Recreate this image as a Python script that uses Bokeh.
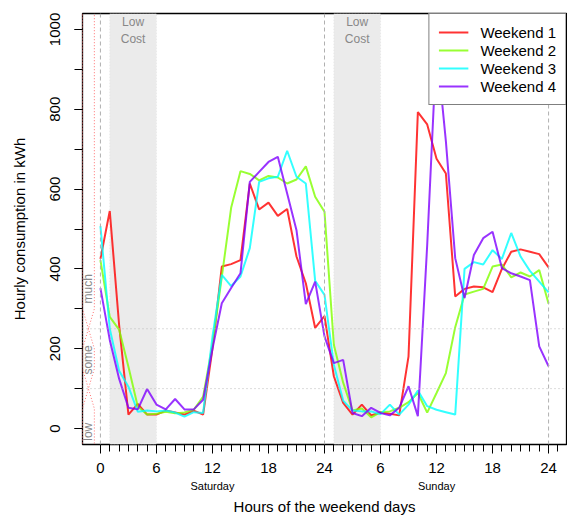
import math
from bokeh.plotting import figure
from bokeh.models import (Range1d, FixedTicker, SingleIntervalTicker, LinearAxis,
                          BoxAnnotation, Span, Legend, LegendItem)
from bokeh.embed import file_html
from bokeh.resources import INLINE
from bokeh.core.properties import value

# ---------------- data ----------------
hours = list(range(49))
weekend1 = [425, 545, 260, 35, 62, 35, 35, 45, 40, 35, 45, 35, 200, 406, 412, 422, 614, 549, 566, 533,
            550, 431, 364, 252, 282, 131, 64, 35, 60, 33, 40, 37, 33, 181, 793, 762, 676, 639, 331, 350,
            356, 354, 342, 400, 443, 449, 443, 437, 404]
weekend2 = [422, 280, 248, 155, 55, 35, 37, 42, 38, 40, 47, 80, 210, 380, 553, 645, 638, 622, 633, 629,
            614, 624, 657, 581, 543, 210, 115, 45, 50, 28, 41, 43, 52, 66, 89, 40, 89, 139, 254, 336,
            343, 350, 406, 411, 379, 391, 381, 397, 313]
weekend3 = [507, 250, 145, 105, 42, 45, 43, 45, 40, 30, 41, 39, 230, 385, 357, 381, 452, 618, 627, 631,
            696, 631, 614, 370, 335, 160, 70, 45, 43, 43, 36, 60, 35, 60, 95, 56, 47, 41, 35, 400,
            417, 411, 447, 425, 490, 431, 395, 368, 341]
weekend4 = [352, 222, 125, 52, 48, 99, 60, 48, 74, 48, 48, 72, 200, 314, 352, 389, 618, 643, 668, 681,
            589, 497, 312, 368, 231, 164, 172, 39, 31, 52, 39, 33, 52, 106, 31, 460, 960, 720, 427, 327,
            435, 477, 493, 402, 389, 381, 372, 206, 156]
series_names = ["Weekend 1", "Weekend 2", "Weekend 3", "Weekend 4"]
series_colors = ["#FF0000", "#80FF00", "#00FFFF", "#8000FF"]

x_tick_positions = [0, 6, 12, 18, 24, 30, 36, 42, 48]
x_tick_labels = ["0", "6", "12", "18", "24", "6", "12", "18", "24"]
x_minor_positions = list(range(0, 50))
day_positions = [12, 36]
day_labels = ["Saturday", "Sunday"]

low_cost_start = [1, 25]
low_cost_end = [6, 30]
day_boundaries = [0, 24, 48]
level_thresholds = [100, 250]

# fuzzy levels drawn at the left
level_y = [-60, 50, 150, 200, 300, 1100]
low_mu = [1, 1, 0, 0, 0, 0]
some_mu = [0, 0, 1, 1, 0, 0]
much_mu = [0, 0, 0, 0, 1, 1]
level_names = ["low", "some", "much"]
level_label_y = [-8, 172, 350]

# ---------------- figure ----------------
X0, X1 = -1.92, 49.92
p = figure(width=567, height=517, output_backend="svg", toolbar_location=None,
           x_range=Range1d(X0, X1), y_range=Range1d(-40, 1040),
           x_axis_type=None, y_axis_type=None,
           min_border=0, min_border_left=82, min_border_right=1,
           min_border_top=13, min_border_bottom=71)
p.grid.visible = False
p.outline_line_color = "black"
p.outline_line_width = 1.3
p.background_fill_color = "white"
p.border_fill_color = "white"

FONT = "Liberation Sans"

# shaded low-cost regions
for a, b in zip(low_cost_start, low_cost_end):
    p.add_layout(BoxAnnotation(left=a, right=b, fill_color="#EBEBEB", fill_alpha=1,
                               line_color="#C8C8C8", line_dash="1 2", line_width=1,
                               level="underlay"))
p.text(x=[(a + b) / 2 for a, b in zip(low_cost_start, low_cost_end)], y=[1035, 1035],
       text=["Low\nCost", "Low\nCost"], text_align="center", text_baseline="top",
       text_font_size="12px", text_color="#888888", text_font=value(FONT))

for d in day_boundaries:
    p.add_layout(Span(location=d, dimension="height", line_color="#B0B0B0",
                      line_dash="4 3", line_width=1))
for t in level_thresholds:
    p.add_layout(Span(location=t, dimension="width", line_color="#B8B8B8",
                      line_dash="1 3", line_width=1))

# fuzzy membership curves
MX0, MX1 = X0, -0.65
for mu in (low_mu, some_mu, much_mu):
    p.line([MX0 + m * (MX1 - MX0) for m in mu], level_y, line_color="#FF7070",
           line_dash="1 2", line_width=1)
p.text(x=[-1.3] * 3, y=level_label_y, text=level_names, angle=math.pi / 2,
       text_align="center", text_baseline="middle", text_font_size="12px",
       text_color="#888888", text_font=value(FONT))

# data lines
renderers = []
for ys, c in zip([weekend1, weekend2, weekend3, weekend4], series_colors):
    renderers.append(p.line(hours, ys, line_color=c, line_width=2, line_alpha=0.8))

# axes
xaxis = LinearAxis(ticker=FixedTicker(ticks=x_tick_positions, minor_ticks=x_minor_positions),
                   major_label_overrides={pos: lab for pos, lab in zip(x_tick_positions, x_tick_labels)})
xaxis.axis_line_color = None
xaxis.major_tick_in = 0
xaxis.major_tick_out = 9
xaxis.minor_tick_in = 0
xaxis.minor_tick_out = 7
xaxis.major_tick_line_color = "black"
xaxis.minor_tick_line_color = "black"
xaxis.major_label_standoff = 9
xaxis.major_label_text_font = FONT
xaxis.major_label_text_font_size = "15px"
xaxis.major_label_text_color = "black"
p.add_layout(xaxis, "below")

dayaxis = LinearAxis(ticker=FixedTicker(ticks=day_positions),
                     major_label_overrides={pos: lab for pos, lab in zip(day_positions, day_labels)},
                     axis_label="Hours of the weekend days")
dayaxis.axis_line_color = None
dayaxis.major_tick_line_color = None
dayaxis.minor_tick_line_color = None
dayaxis.major_tick_in = 0
dayaxis.major_tick_out = 0
dayaxis.major_label_standoff = 4
dayaxis.major_label_text_font = FONT
dayaxis.major_label_text_font_size = "11px"
dayaxis.major_label_text_color = "black"
dayaxis.axis_label_standoff = 3
dayaxis.axis_label_text_font = FONT
dayaxis.axis_label_text_font_size = "15px"
dayaxis.axis_label_text_font_style = "normal"
dayaxis.axis_label_text_color = "black"
p.add_layout(dayaxis, "below")

yaxis = LinearAxis(ticker=SingleIntervalTicker(interval=200, num_minor_ticks=2),
                   axis_label="Hourly consumption in kWh")
yaxis.axis_line_color = None
yaxis.major_tick_in = 0
yaxis.major_tick_out = 8
yaxis.minor_tick_in = 0
yaxis.minor_tick_out = 8
yaxis.major_tick_line_color = "black"
yaxis.minor_tick_line_color = "black"
yaxis.major_label_orientation = "vertical"
yaxis.major_label_standoff = 14
yaxis.major_label_text_font = FONT
yaxis.major_label_text_font_size = "15px"
yaxis.major_label_text_color = "black"
yaxis.axis_label_standoff = 20
yaxis.axis_label_text_font = FONT
yaxis.axis_label_text_font_size = "15px"
yaxis.axis_label_text_font_style = "normal"
yaxis.axis_label_text_color = "black"
p.add_layout(yaxis, "left")

legend = Legend(items=[LegendItem(label=n, renderers=[r]) for n, r in zip(series_names, renderers)],
                location="top_right", margin=0, padding=9, spacing=0,
                label_height=18, glyph_height=18, glyph_width=30, label_standoff=12,
                border_line_color="black", border_line_width=1.3,
                background_fill_color="white", background_fill_alpha=1,
                label_text_font=FONT, label_text_font_size="15px", label_text_color="black")
p.add_layout(legend)

open("out.html", "w").write(file_html(p, INLINE))
